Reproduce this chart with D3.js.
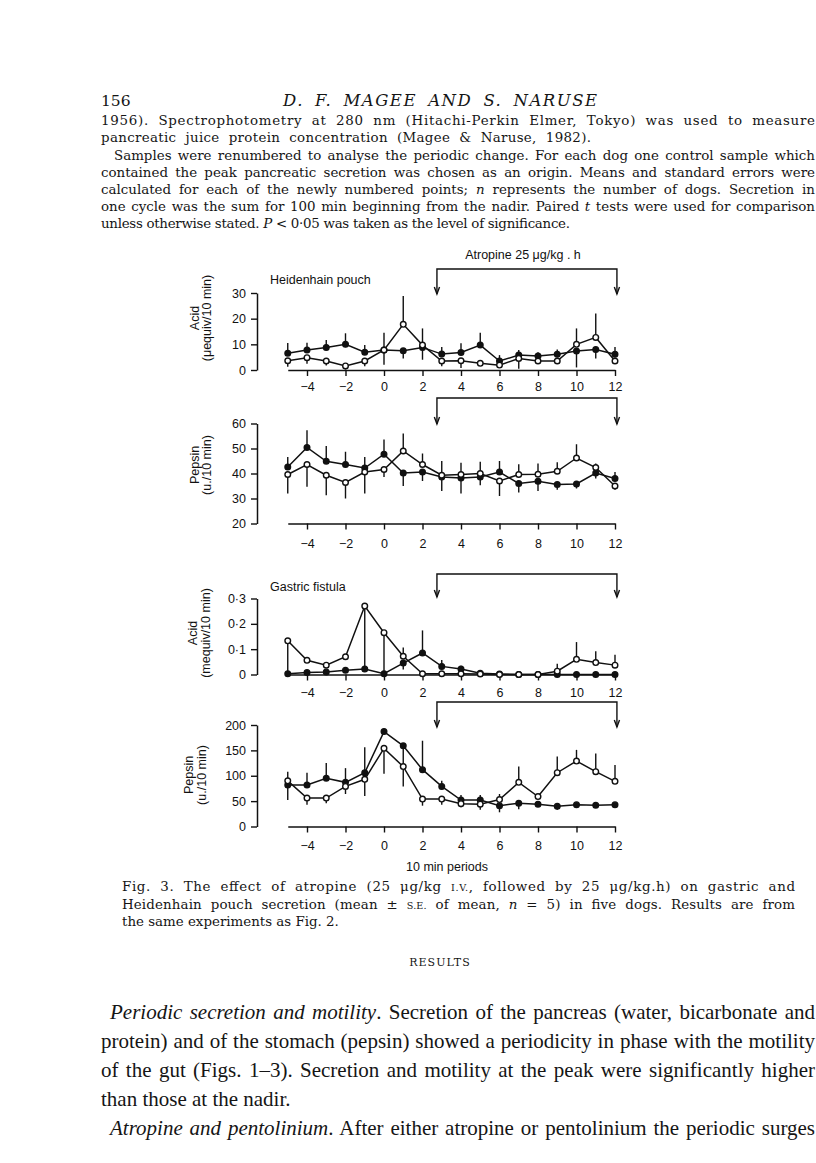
<!DOCTYPE html>
<html><head><meta charset="utf-8">
<script src="https://cdn.jsdelivr.net/npm/d3@7"></script>
<style>body{margin:0;background:#fff} svg{display:block}</style>
</head><body>
<svg id="page" width="816" height="1163"></svg>
<script>
// ---------- data ----------
const periods = [-5,-4,-3,-2,-1,0,1,2,3,4,5,6,7,8,9,10,11,12];
const xTicks = [-4,-2,0,2,4,6,8,10,12];
const atropine = [2.75, 12.1];

// Heidenhain pouch acid (μequiv/10 min)
const hpAcidFilled    = [6.5,7.8,8.8,10,6.9,7.8,7.5,8.8,6.2,6.8,9.7,3.5,5.8,5.5,6.1,7.4,8,6.1];
const hpAcidFilledBar = [10.5,10.6,11.7,14.3,9.7,14.5,4.5,4,9,10.4,14.5,5.8,7.8,6.9,8,1,4.5,9];
const hpAcidOpen      = [3.6,4.8,3.5,1.6,3.5,7.8,17.8,9.7,3.5,3.6,2.6,1.9,4.5,3.5,3.5,10,12.7,3.5];
const hpAcidOpenBar   = [1.3,2.4,1.8,0.2,1.5,2,28.8,16.2,1.5,0.8,null,null,0.5,null,null,16.2,22,null];
const hpAcidTicks = [0,10,20,30];

// Heidenhain pouch pepsin (u./10 min)
const hpPepFilled    = [42.6,50.4,44.9,43.6,42.2,47.7,40.2,40.6,38.6,38.2,38.6,40.6,36,36.9,35.6,35.8,40.2,38];
const hpPepFilledBar = [46.6,57.3,51,48.7,46.6,53.6,35,37,33,32,35.3,45,32.4,33,33.5,34,38,40.6];
const hpPepOpen      = [39.6,43.6,39.3,36.4,40.6,41.6,49,43.6,39.3,39.6,40,37,39.6,39.7,40.9,46.2,42.4,35];
const hpPepOpenBar   = [32,34.7,31.3,30,32,38.6,56,48,45,44.3,44.7,31,43.7,44,44.5,51.7,44,33.5];
const hpPepTicks = [20,30,40,50,60];

// Gastric fistula acid (mequiv/10 min)
const gfAcidFilled    = [0.003,0.008,0.01,0.017,0.022,0.003,0.045,0.085,0.032,0.022,0.005,0.002,0,0,0,0,0,0];
const gfAcidFilledBar = [null,null,null,null,null,null,0.02,0.174,0.057,0.035,null,null,null,null,null,null,null,null];
const gfAcidOpen      = [0.133,0.056,0.037,0.07,0.27,0.165,0.072,0.003,0.003,0.003,0.002,0,0,0,0.013,0.06,0.047,0.037];
const gfAcidOpenBar   = [0,null,null,null,0.022,0,0.107,null,null,null,null,null,null,null,0.042,0.128,0.092,0.078];
const gfAcidTicks = [0,0.1,0.2,0.3];
const gfAcidTickLabels = ["0","0·1","0·2","0·3"];

// Gastric fistula pepsin (u./10 min)
const gfPepFilled    = [82,82,95,87,106,187,159,112,79,52,52,41,46,44,40,43,42,43];
const gfPepFilledBar = [52,106,125,115,156,null,118,169,90,62,62,28,34,null,33,null,null,null];
const gfPepOpen      = [90,56,56,79,93,154,118,54,54,45,44,53,87,59,106,129,108,89];
const gfPepOpenBar   = [108,43,46,64,60,104,79,41,43,38,33,64,118,null,138,151,144,121];
const gfPepTicks = [0,50,100,150,200];

// ---------- drawing ----------
const svg = d3.select("#page");
const x = d3.scaleLinear().domain([-5,12]).range([287.75,615]);
const sans = "'Liberation Sans', Arial, sans-serif";
const ink = "#111";

function panel(cfg){
  const y = d3.scaleLinear().domain(cfg.domain).range(cfg.range);
  const g = svg.append("g");
  const xa = g.append("g").attr("transform",`translate(0,${cfg.range[0]})`)
    .call(d3.axisBottom(x).tickValues(xTicks).tickSize(6).tickSizeOuter(0).tickPadding(cfg.xpad));
  const ya = g.append("g").attr("transform","translate(257,0)")
    .call(d3.axisLeft(y).tickValues(cfg.ticks)
      .tickFormat((d,i)=> cfg.labels ? cfg.labels[i] : d3.format("d")(d))
      .tickSize(6).tickSizeOuter(0).tickPadding(5));
  [xa,ya].forEach(a=>{
    a.selectAll(".domain").attr("stroke",ink).attr("stroke-width",1.5);
    a.selectAll(".tick line").attr("stroke",ink).attr("stroke-width",1.4);
    a.selectAll("text").attr("font-family",sans).attr("font-size",12.5).attr("fill",ink);
  });
  cfg.ylab.forEach((t,i)=>{
    g.append("text").attr("transform",`translate(${cfg.ylabX[i]},${cfg.ylabY}) rotate(-90)`)
      .attr("text-anchor","middle").attr("font-family",sans).attr("font-size",12.5).attr("fill",ink).text(t);
  });
  const line = d3.line().defined(d=>d!=null).x((d,i)=>x(periods[i])).y(d=>y(d));
  cfg.series.forEach(s=>{
    g.append("path").datum(s.values).attr("d",line).attr("fill","none")
      .attr("stroke",ink).attr("stroke-width",1.5);
  });
  cfg.series.forEach(s=>{
    s.values.forEach((v,i)=>{
      const b = s.bars[i];
      if(b==null) return;
      g.append("line").attr("x1",x(periods[i])).attr("x2",x(periods[i]))
        .attr("y1",y(v)).attr("y2",y(b)).attr("stroke",ink).attr("stroke-width",1.4);
    });
  });
  cfg.series.forEach(s=>{
    g.selectAll(null).data(s.values).enter().append("circle")
      .attr("cx",(d,i)=>x(periods[i])).attr("cy",d=>y(d)).attr("r",2.8)
      .attr("fill",s.open?"#fff":ink).attr("stroke",ink).attr("stroke-width",1.4);
  });
  const xl = x(atropine[0]), xr = x(atropine[1]);
  g.append("path").attr("d",`M${xl},${cfg.br[1]}L${xl},${cfg.br[0]}L${xr},${cfg.br[0]}L${xr},${cfg.br[1]}`)
    .attr("fill","none").attr("stroke",ink).attr("stroke-width",1.4);
  [xl,xr].forEach(xx=>{
    g.append("path").attr("d",`M${xx-2.6},${cfg.br[1]-7}L${xx},${cfg.br[1]}L${xx+2.6},${cfg.br[1]-7}`)
      .attr("fill","none").attr("stroke",ink).attr("stroke-width",1.4);
  });
}

panel({domain:[0,30],range:[370,293],ticks:hpAcidTicks,xpad:6,
  ylab:["Acid","(μequiv/10 min)"],ylabX:[199,211],ylabY:318,br:[269,294],
  series:[{values:hpAcidFilled,bars:hpAcidFilledBar,open:false},{values:hpAcidOpen,bars:hpAcidOpenBar,open:true}]});
panel({domain:[20,60],range:[523.5,423.5],ticks:hpPepTicks,xpad:10,
  ylab:["Pepsin","(u./10 min)"],ylabX:[199,211],ylabY:465,br:[398,424],
  series:[{values:hpPepFilled,bars:hpPepFilledBar,open:false},{values:hpPepOpen,bars:hpPepOpenBar,open:true}]});
panel({domain:[0,0.3],range:[674.5,598.5],ticks:gfAcidTicks,labels:gfAcidTickLabels,xpad:8,
  ylab:["Acid","(mequiv/10 min)"],ylabX:[197,210],ylabY:633,br:[574,597],
  series:[{values:gfAcidFilled,bars:gfAcidFilledBar,open:false},{values:gfAcidOpen,bars:gfAcidOpenBar,open:true}]});
panel({domain:[0,200],range:[826.5,725],ticks:gfPepTicks,xpad:9,
  ylab:["Pepsin","(u./10 min)"],ylabX:[193,206],ylabY:775,br:[702,727],
  series:[{values:gfPepFilled,bars:gfPepFilledBar,open:false},{values:gfPepOpen,bars:gfPepOpenBar,open:true}]});

function label(t,xx,yy,anchor){
  svg.append("text").attr("x",xx).attr("y",yy).attr("text-anchor",anchor||"start")
    .attr("font-family",sans).attr("font-size",12.5).attr("fill",ink).text(t);
}
label("Atropine 25 μg/kg . h",523,259,"middle");
label("Heidenhain pouch",270,284);
label("Gastric fistula",270,591);
label("10 min periods",447,871,"middle");

// ---------- page text ----------
function tline(xx,yy,segs,opt){
  const t = svg.append("text").attr("x",xx).attr("y",yy)
    .attr("font-family",opt.font).attr("font-size",opt.size).attr("fill","#151515");
  let plain = "";
  segs.forEach(s=>{
    if(typeof s==="string"){ t.append("tspan").text(s); plain += s; }
    else {
      const sp = t.append("tspan").text(s.t); plain += s.t;
      if(s.i) sp.attr("font-style","italic");
      if(s.sc) sp.attr("font-size",opt.size*0.72);
    }
  });
  if(opt.width){
    const len = t.node().getComputedTextLength();
    const spaces = (plain.match(/ /g)||[]).length;
    const extra = opt.width - len;
    if(spaces>0 && extra>0){
      const ws = Math.min(extra/spaces, 4.5);
      t.attr("word-spacing", ws);
      if(extra/spaces > 4.5) t.attr("textLength",opt.width).attr("lengthAdjust","spacing");
    } else if(extra<0){
      t.attr("textLength",opt.width).attr("lengthAdjust","spacing");
    }
  }
  return t;
}
const serif = "'DejaVu Serif', serif";
const serif2 = "'Liberation Serif', 'Times New Roman', serif";
tline(101,106,["156"],{font:serif,size:15.5});
tline(283,106,[{t:"D. F. MAGEE AND S. NARUSE",i:true}],{font:serif,size:16.5,width:314});

const P = {font:serif,size:13.4};
tline(101,125,["1956). Spectrophotometry at 280 nm (Hitachi-Perkin Elmer, Tokyo) was used to measure"],{...P,width:714});
tline(101,142,["pancreatic juice protein concentration (Magee & Naruse, 1982)."],{...P,width:490});
tline(114,160,["Samples were renumbered to analyse the periodic change. For each dog one control sample which"],{...P,width:701});
tline(101,177,["contained the peak pancreatic secretion was chosen as an origin. Means and standard errors were"],{...P,width:714});
tline(101,194,["calculated for each of the newly numbered points; ",{t:"n",i:true}," represents the number of dogs. Secretion in"],{...P,width:714});
tline(101,211,["one cycle was the sum for 100 min beginning from the nadir. Paired ",{t:"t",i:true}," tests were used for comparison"],{...P,width:714});
tline(101,228,["unless otherwise stated. ",{t:"P",i:true}," < 0·05 was taken as the level of significance."],{...P,width:469});

const C = {font:serif,size:13.4};
tline(122,891,["Fig. 3. The effect of atropine (25 μg/kg ",{t:"I.V.",sc:true},", followed by 25 μg/kg.h) on gastric and"],{...C,width:673});
tline(122,909,["Heidenhain pouch secretion (mean ± ",{t:"S.E.",sc:true}," of mean, ",{t:"n",i:true}," = 5) in five dogs. Results are from"],{...C,width:673});
tline(122,926,["the same experiments as Fig. 2."],C);

svg.append("text").attr("x",440).attr("y",966).attr("text-anchor","middle")
  .attr("font-family",serif).attr("font-size",11).attr("letter-spacing",1).attr("fill","#151515").text("RESULTS");

const R = {font:serif2,size:21};
tline(110,1019,[{t:"Periodic secretion and motility",i:true},". Secretion of the pancreas (water, bicarbonate and"],{...R,width:705});
tline(101,1048,["protein) and of the stomach (pepsin) showed a periodicity in phase with the motility"],{...R,width:714});
tline(101,1077,["of the gut (Figs. 1–3). Secretion and motility at the peak were significantly higher"],{...R,width:714});
tline(101,1106,["than those at the nadir."],R);
tline(110,1135,[{t:"Atropine and pentolinium",i:true},". After either atropine or pentolinium the periodic surges"],{...R,width:705});
</script>
</body></html>
